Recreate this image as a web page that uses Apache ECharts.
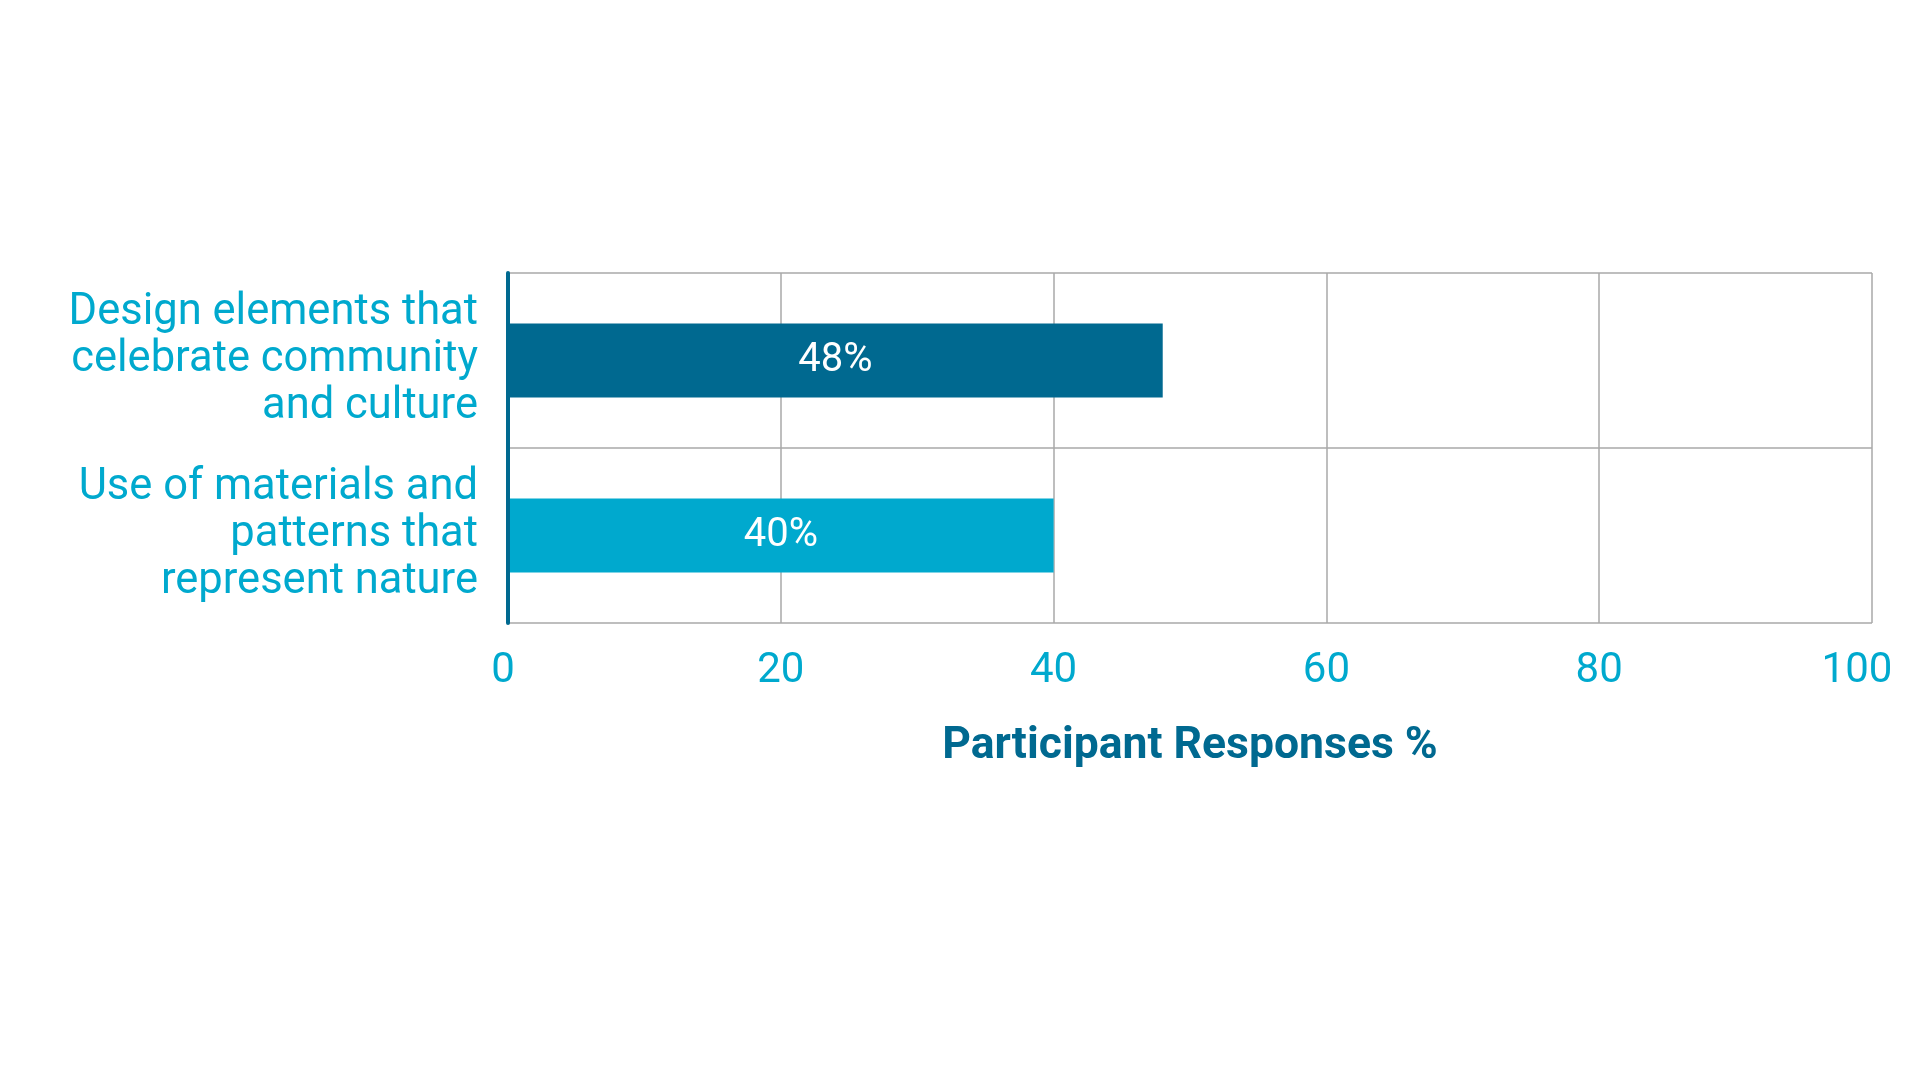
<!DOCTYPE html>
<html>
<head>
<meta charset="utf-8">
<script src="https://cdn.jsdelivr.net/npm/echarts@6/dist/echarts.min.js"></script>
<style>
html,body{margin:0;padding:0;background:#fff;}
#chart{width:1920px;height:1080px;}
</style>
</head>
<body>
<div id="chart"></div>
<script>
const categories = [
  'Design elements that\ncelebrate community\nand culture',
  'Use of materials and\npatterns that\nrepresent nature'
];
const values = [48, 40];
const xTickLabels = ['0', '20', '40', '60', '80', '100'];
const axisTitle = 'Participant Responses %';

const barColors = ['#006990', '#00A9CE'];
const labelColor = '#00A9CE';
const darkBlue = '#006990';
const gridGray = '#A8A8A8';

const chart = echarts.init(document.getElementById('chart'));
chart.setOption({
  backgroundColor: '#ffffff',
  textStyle: { fontFamily: 'Roboto' },
  grid: { left: 508, right: 48, top: 273, bottom: 457, containLabel: false },
  xAxis: {
    type: 'value',
    min: 0, max: 100, interval: 20,
    axisLine: { show: false },
    axisTick: { show: false },
    splitLine: { show: true, lineStyle: { color: gridGray, width: 1.5 } },
    axisLabel: {
      fontSize: 42, color: labelColor, margin: 27, fontFamily: 'Roboto',
      formatter: function (v) {
        const s = xTickLabels[Math.round(v / 20)];
        if (v === 100) return '{r|' + s + '}';
        if (v === 0) return '{z|' + s + '}';
        return s;
      },
      rich: {
        r: { fontSize: 42, color: labelColor, padding: [0, 30, 0, 0], fontFamily: 'Roboto' },
        z: { fontSize: 42, color: labelColor, padding: [0, 10, 0, 0], fontFamily: 'Roboto' }
      }
    },
    name: axisTitle,
    nameLocation: 'middle',
    nameGap: 101,
    nameTextStyle: { fontSize: 44.5, fontWeight: 'bold', color: darkBlue, fontFamily: 'Roboto' }
  },
  yAxis: {
    type: 'category',
    inverse: true,
    data: categories,
    axisLine: { show: true, lineStyle: { color: darkBlue, width: 4 } },
    axisTick: { show: false },
    splitLine: { show: true, lineStyle: { color: gridGray, width: 1.5 } },
    axisLabel: {
      fontSize: 43.5, lineHeight: 47, color: labelColor, margin: 30,
      align: 'right', fontFamily: 'Roboto'
    },
    z: 5
  },
  series: [{
    type: 'bar',
    barWidth: 74,
    data: values.map((v, i) => ({ value: v, itemStyle: { color: barColors[i] } })),
    label: {
      show: true, position: 'inside', color: '#ffffff', fontSize: 40,
      fontFamily: 'Roboto', formatter: '{c}%'
    },
    animation: false
  }],
  animation: false
});
</script>
</body>
</html>
